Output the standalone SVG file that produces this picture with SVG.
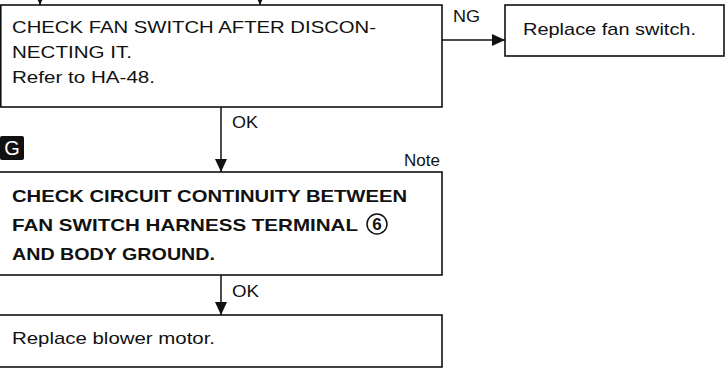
<svg xmlns="http://www.w3.org/2000/svg" width="726" height="370" viewBox="0 0 726 370">
<style>
.box{fill:#fff;stroke:#111;stroke-width:1.6}
.t{font-family:"Liberation Sans",Arial,sans-serif;font-size:17px;fill:#111}
.b{font-family:"Liberation Sans",Arial,sans-serif;font-size:17px;font-weight:bold;fill:#111}
.ln{stroke:#111;stroke-width:1.5;fill:none}
</style>
<defs>
<marker id="ah" viewBox="0 0 13 12" refX="13" refY="6" markerWidth="13" markerHeight="12" markerUnits="userSpaceOnUse" orient="auto">
<path d="M0,0 L13,6 L0,12 Z" fill="#111"/>
</marker>
</defs>
<g id="connectors">
<line class="ln" x1="40" y1="-10" x2="40" y2="5" marker-end="url(#ah)"/>
<line class="ln" x1="260" y1="-10" x2="260" y2="5" marker-end="url(#ah)"/>
<line class="ln" x1="442" y1="40" x2="505" y2="40" marker-end="url(#ah)"/>
<text class="t" x="453" y="22" textLength="27" lengthAdjust="spacingAndGlyphs">NG</text>
<line class="ln" x1="221" y1="107" x2="221" y2="172" marker-end="url(#ah)"/>
<text class="t" x="232" y="128" textLength="26" lengthAdjust="spacingAndGlyphs">OK</text>
<line class="ln" x1="221" y1="275" x2="221" y2="315" marker-end="url(#ah)"/>
<text class="t" x="232" y="297" textLength="27" lengthAdjust="spacingAndGlyphs">OK</text>
</g>
<g id="check-fan-switch">
<rect class="box" x="0.8" y="5" width="441.2" height="102"/>
<text class="t" x="12" y="33" textLength="364" lengthAdjust="spacingAndGlyphs">CHECK FAN SWITCH AFTER DISCON-</text>
<text class="t" x="12" y="58" textLength="120" lengthAdjust="spacingAndGlyphs">NECTING IT.</text>
<text class="t" x="12" y="83" textLength="143" lengthAdjust="spacingAndGlyphs">Refer to HA-48.</text>
</g>
<g id="replace-fan-switch">
<rect class="box" x="505" y="5" width="219" height="51"/>
<text class="t" x="523" y="35" textLength="173" lengthAdjust="spacingAndGlyphs">Replace fan switch.</text>
</g>
<g id="step-g">
<rect x="0" y="136" width="24" height="24" rx="2" fill="#111"/>
<text x="12" y="155" text-anchor="middle" font-family="Liberation Sans, Arial, sans-serif" font-size="20" fill="#fff">G</text>
</g>
<g id="check-circuit">
<text class="t" x="440" y="166" text-anchor="end">Note</text>
<rect class="box" x="-2" y="172" width="444" height="103"/>
<text class="b" x="12" y="202" textLength="395" lengthAdjust="spacingAndGlyphs">CHECK CIRCUIT CONTINUITY BETWEEN</text>
<text class="b" x="12" y="231" textLength="346" lengthAdjust="spacingAndGlyphs">FAN SWITCH HARNESS TERMINAL</text>
<circle cx="377" cy="224" r="10" fill="none" stroke="#111" stroke-width="1.5"/>
<text class="b" x="377" y="230" text-anchor="middle" font-size="15">6</text>
<text class="b" x="12" y="260" textLength="203" lengthAdjust="spacingAndGlyphs">AND BODY GROUND.</text>
</g>
<g id="replace-blower-motor">
<rect class="box" x="-2" y="315" width="444" height="52"/>
<text class="t" x="12" y="344" textLength="203" lengthAdjust="spacingAndGlyphs">Replace blower motor.</text>
</g>
</svg>
